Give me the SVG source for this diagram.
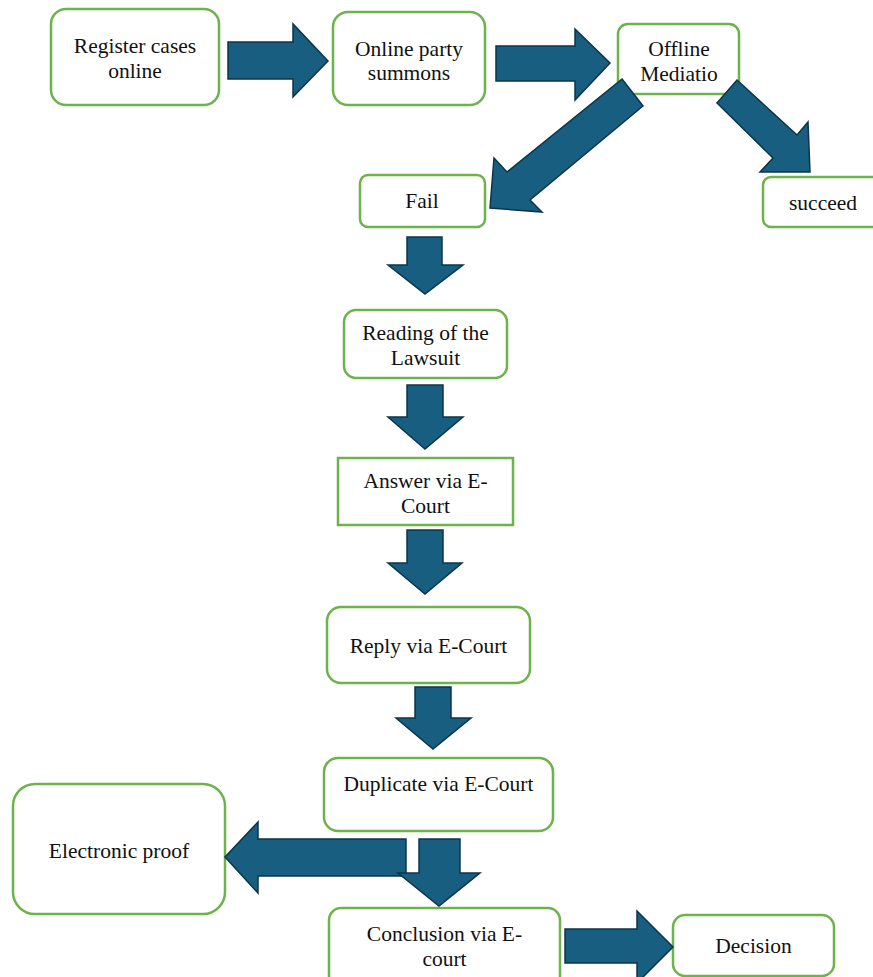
<svg xmlns="http://www.w3.org/2000/svg" width="873" height="977" viewBox="0 0 873 977">
<style>
.box{fill:#ffffff;stroke:#6db34b;stroke-width:2.5}
.arr{fill:#175e80;stroke:#0e3448;stroke-width:1.5;stroke-linejoin:miter}
text{font-family:"Liberation Serif","Times New Roman",serif;font-size:21.5px;fill:#111111;text-anchor:middle}
</style>
<rect width="873" height="977" fill="#ffffff"/>
<g id="n-register"><rect class="box" x="51" y="9" width="168" height="96" rx="15"/><text x="135" y="53">Register cases</text><text x="135" y="78">online</text></g>
<g id="n-summons"><rect class="box" x="333" y="12" width="152" height="93" rx="15"/><text x="409" y="56">Online party</text><text x="409" y="80">summons</text></g>
<g id="n-mediation"><rect class="box" x="618" y="24" width="121" height="70" rx="10"/><text x="679" y="56">Offline</text><text x="679" y="81">Mediatio</text></g>
<g id="n-fail"><rect class="box" x="360" y="175" width="125" height="52" rx="8"/><text x="422" y="208">Fail</text></g>
<g id="n-succeed"><rect class="box" x="763" y="177" width="120" height="50" rx="8"/><text x="823" y="210">succeed</text></g>
<g id="n-reading"><rect class="box" x="344" y="310" width="163" height="68" rx="12"/><text x="425.5" y="340">Reading of the</text><text x="425.5" y="365">Lawsuit</text></g>
<g id="n-answer"><rect class="box" x="338" y="458" width="175" height="67"/><text x="425.5" y="488">Answer via E-</text><text x="425.5" y="513">Court</text></g>
<g id="n-reply"><rect class="box" x="327" y="607" width="203" height="76" rx="14"/><text x="428.5" y="653">Reply via E-Court</text></g>
<g id="n-duplicate"><rect class="box" x="324" y="758" width="229" height="73" rx="14"/><text x="438.5" y="791">Duplicate via E-Court</text></g>
<g id="n-proof"><rect class="box" x="13" y="784" width="212" height="130" rx="22"/><text x="119" y="858">Electronic proof</text></g>
<g id="n-conclusion"><rect class="box" x="329" y="908" width="231" height="80" rx="12"/><text x="444.5" y="941">Conclusion via E-</text><text x="444.5" y="966">court</text></g>
<g id="n-decision"><rect class="box" x="673" y="915" width="161" height="61" rx="12"/><text x="753.5" y="953">Decision</text></g>
<g id="connectors">
<polygon class="arr" points="228,42 293,42 293,24 328,61 293,97 293,79 228,79"/>
<polygon class="arr" points="496,46 575,46 575,29 610,63 575,100 575,81 496,81"/>
<polygon class="arr" points="622,79 643,106 530,200 542,212 490,208 494,158 507,172"/>
<polygon class="arr" points="737,80 797,135 808,122 810,172 760,172 773,158 717,103"/>
<polygon class="arr" points="407,237 442,237 442,265 463,265 425,294 388,265 407,265"/>
<polygon class="arr" points="407,385 443,385 443,417 463,417 425,449 388,417 407,417"/>
<polygon class="arr" points="407,530 443,530 443,563 462,563 425,594 388,563 407,563"/>
<polygon class="arr" points="415,687 451,687 451,718 471,718 433,749 396,718 415,718"/>
<polygon class="arr" points="406,839 406,876 258,876 258,893 225,857 258,822 258,839"/>
<polygon class="arr" points="419,839 460,839 460,873 480,873 439,906 398,873 419,873"/>
<polygon class="arr" points="565,929 637,929 637,911 673,947 637,983 637,963 565,963"/>
</g>
</svg>
